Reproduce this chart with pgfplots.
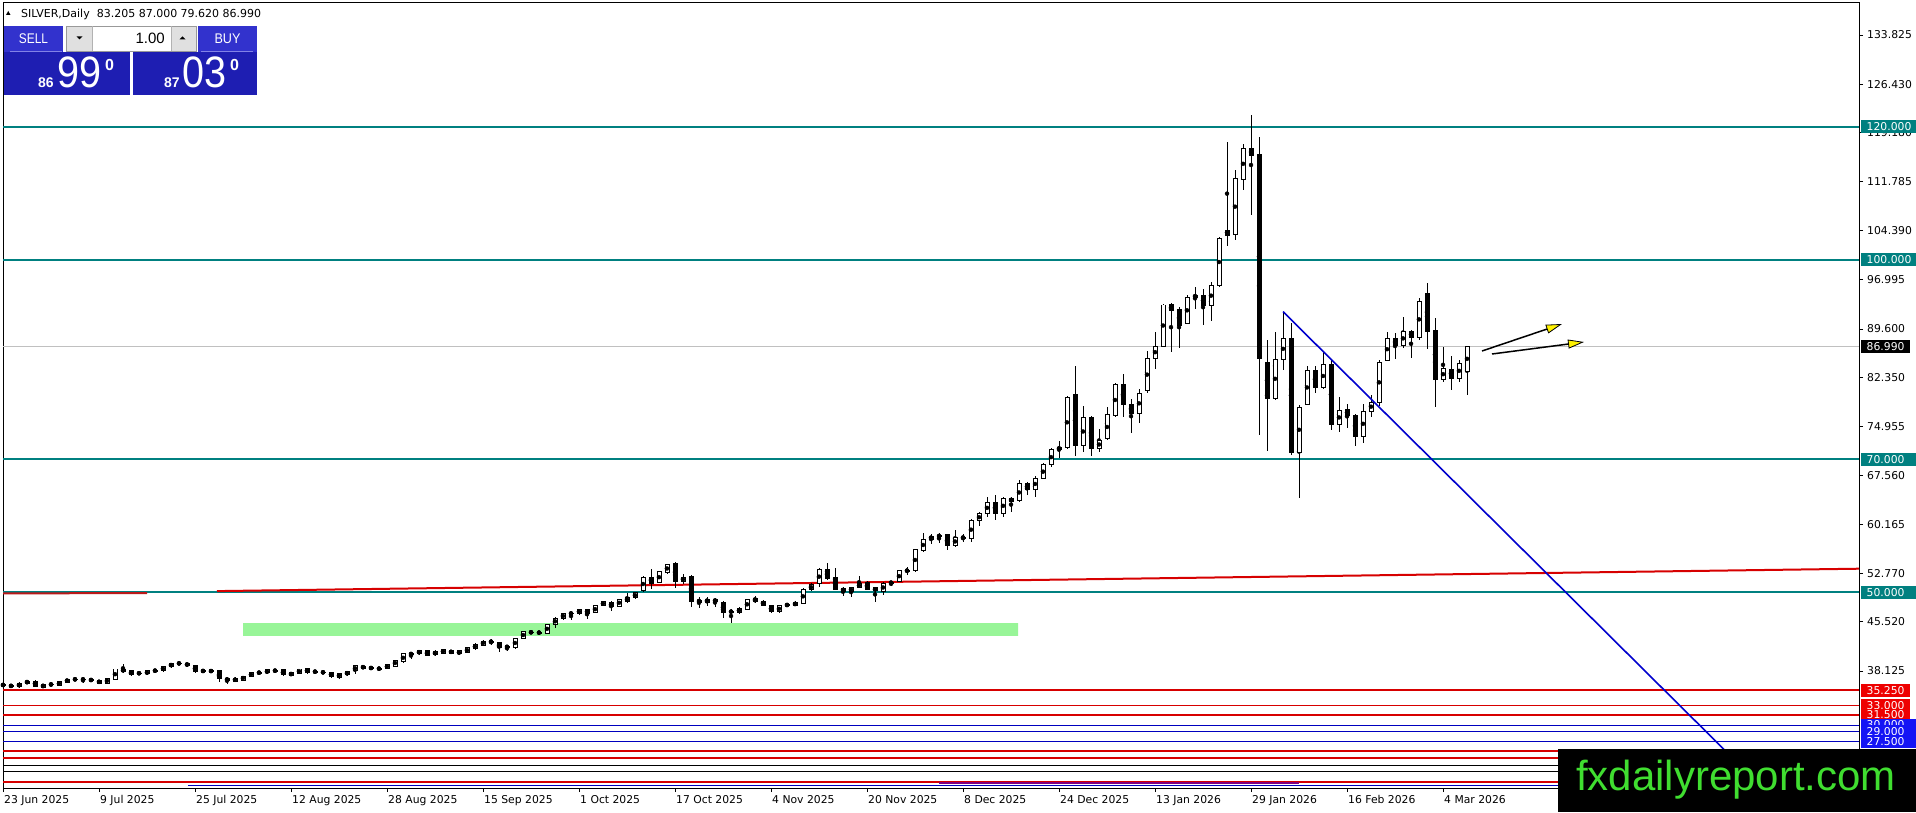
\documentclass[border=0pt]{standalone}
\usepackage{fontspec}
\setmainfont{DejaVu Sans}
\newfontfamily\lib{Liberation Sans}
\usepackage{pgfplots}
\pgfplotsset{compat=1.18}
\usepackage{pgfplotstable}
\usetikzlibrary{arrows.meta}
\definecolor{tealc}{RGB}{0,128,128}
\definecolor{redl}{RGB}{215,0,0}
\definecolor{redd}{RGB}{185,25,25}
\definecolor{redb}{RGB}{238,0,0}
\definecolor{bluel}{RGB}{0,0,190}
\definecolor{blueb}{RGB}{20,20,245}
\definecolor{trend}{RGB}{0,0,205}
\definecolor{purp}{RGB}{128,0,128}
\definecolor{btn}{RGB}{50,50,205}
\definecolor{btnline}{RGB}{130,130,230}
\definecolor{pbox}{RGB}{30,30,178}
\definecolor{wm}{RGB}{64,222,48}
\definecolor{band}{RGB}{152,245,152}
\definecolor{pline}{RGB}{192,192,192}
\newcommand\tf{\fontsize{10.8}{12}\selectfont}

\pgfplotstableread{
i o h l c
0 36.05 36.2 35.85 36.00
1 35.9 36.1 35.7 35.87
2 35.77 36.4 35.6 36.27
3 36.27 36.8 36.15 36.62
4 36.62 36.8 35.7 35.87
5 35.67 36.2 35.5 36.12
6 36.1 36.3 35.9 36.12
7 35.97 36.6 35.85 36.52
8 36.47 37.0 36.35 36.87
9 36.85 37.0 36.75 36.9
10 36.87 37.17 36.27 36.88
11 36.78 36.95 36.6 36.77
12 36.72 36.85 36.15 36.27
13 36.27 37.1 36.15 37.02
14 36.87 38.5 36.75 38.43
15 38.43 39.18 37.9 38.03
16 38.13 38.3 37.4 37.53
17 37.8 38.0 37.6 37.78
18 37.68 38.25 37.55 38.13
19 38.17 38.3 38.05 38.18
20 38.13 38.9 38.0 38.83
21 38.78 39.4 38.65 39.28
22 39.27 39.45 39.1 39.28
23 39.28 39.4 38.8 38.93
24 38.98 39.1 37.9 38.03
25 38.14 38.3 37.95 38.13
26 38.12 38.3 37.95 38.13
27 38.13 38.25 36.5 36.97
28 37.07 37.2 36.12 36.67
29 36.57 37.2 36.4 37.07
30 36.77 37.45 36.6 37.37
31 37.37 37.9 37.25 37.83
32 37.87 38.05 37.7 37.88
33 37.83 38.35 37.7 38.28
34 38.17 38.35 38.0 38.18
35 38.28 38.4 37.4 37.53
36 37.48 37.95 37.35 37.88
37 37.78 38.5 37.65 38.43
38 38.48 38.6 37.75 37.88
39 38.03 38.2 37.85 38.02
40 37.94 38.1 37.75 37.93
41 37.93 38.05 37.15 37.28
42 37.18 37.85 36.88 37.78
43 37.53 38.15 37.4 38.08
44 38.13 39.0 37.63 38.93
45 38.88 39.0 38.4 38.53
46 38.59 38.75 38.4 38.58
47 38.49 38.65 38.3 38.48
48 38.53 39.15 38.4 39.08
49 38.88 39.85 38.75 39.78
50 39.54 40.75 39.4 40.69
51 40.75 40.9 40.0 40.65
52 40.74 41.3 40.6 41.19
53 41.14 41.25 40.35 40.49
54 40.54 41.25 40.4 41.09
55 40.79 41.5 40.65 41.39
56 41.24 41.35 40.65 40.79
57 40.69 41.3 40.55 41.14
58 40.94 41.7 40.8 41.59
59 41.44 42.3 41.3 42.19
60 42.04 42.75 41.9 42.64
61 42.55 42.9 42.05 42.54
62 42.44 42.55 41.04 41.64
63 41.8 41.95 41.15 41.75
64 41.64 43.15 41.5 43.05
65 43.05 44.15 42.9 44.05
66 43.95 44.1 43.8 43.96
67 43.92 44.05 43.75 43.88
68 43.8 45.25 43.65 45.15
69 45.15 46.2 44.55 46.05
70 46.0 46.9 45.85 46.81
71 46.85 47.0 45.8 46.75
72 46.71 47.5 46.6 47.41
73 47.31 47.45 45.9 46.81
74 46.91 48.05 46.8 47.96
75 48.01 48.65 47.9 48.56
76 48.46 48.6 47.2 47.76
77 47.86 49.0 47.7 48.91
78 48.56 49.8 48.35 49.2
79 49.16 50.0 49.0 49.92
80 50.22 52.35 50.05 52.22
81 52.22 53.43 50.42 51.32
82 51.42 53.2 51.3 53.08
83 52.93 54.3 52.8 54.18
84 54.33 54.58 50.57 51.67
85 51.67 52.67 51.22 52.22
86 52.42 52.6 47.81 48.56
87 48.81 49.21 47.56 48.51
88 48.46 49.31 47.91 48.96
89 48.91 49.05 47.81 48.56
90 48.51 48.65 46.06 46.91
91 47.07 47.41 45.4 47.06
92 46.91 47.7 46.75 47.56
93 47.41 49.0 47.25 48.91
94 49.01 49.41 48.41 48.56
95 48.66 48.8 47.9 48.01
96 48.01 48.1 46.85 47.01
97 47.01 48.05 46.85 47.96
98 48.07 48.4 47.7 48.06
99 48.01 48.6 47.85 48.41
100 48.31 50.55 48.2 50.42
101 50.32 51.3 50.2 51.17
102 51.32 53.58 50.82 53.33
103 53.33 54.43 51.82 52.07
104 52.22 53.58 50.3 50.42
105 50.57 50.7 49.42 50.07
106 50.07 50.8 49.22 50.67
107 50.67 52.42 50.55 51.32
108 51.47 51.6 50.3 50.42
109 50.62 50.75 48.56 50.22
110 50.07 51.45 49.57 51.32
111 51.43 51.6 50.9 51.42
112 51.57 53.35 51.45 53.23
113 53.24 53.83 52.58 53.23
114 53.23 56.55 53.1 56.44
115 56.24 58.84 56.1 57.94
116 57.94 58.74 57.24 58.44
117 58.45 58.84 57.34 58.44
118 58.6 58.75 56.4 57.0
119 57.0 59.35 56.85 58.24
120 58.21 58.75 57.5 58.2
121 58.09 60.95 57.6 60.7
122 60.7 62.0 60.0 61.85
123 61.85 64.26 61.35 63.5
124 63.5 64.6 60.85 61.85
125 61.85 64.25 61.35 64.11
126 64.11 64.25 62.1 63.61
127 63.71 66.87 63.55 66.27
128 66.27 66.62 64.6 65.47
129 65.47 67.47 64.36 67.07
130 67.12 69.48 66.95 69.13
131 69.13 71.65 68.77 71.48
132 71.48 72.74 70.13 71.78
133 71.78 79.45 71.6 79.31
134 79.66 84.02 70.53 72.04
135 72.04 78.0 71.13 76.30
136 76.30 76.5 70.53 71.63
137 71.63 74.5 71.13 72.79
138 73.04 77.9 72.9 76.65
139 76.55 81.5 76.4 81.26
140 81.26 82.77 76.3 78.25
141 78.25 79.05 73.9 76.9
142 76.9 80.5 75.5 79.91
143 80.26 86.28 79.9 85.18
144 85.18 89.19 83.5 87.03
145 87.03 93.4 86.9 93.2
146 93.2 93.55 86.18 92.35
147 92.45 92.95 86.78 90.09
148 90.44 94.7 90.3 94.35
149 94.35 95.86 92.55 94.7
150 94.7 95.55 90.2 93.05
151 93.1 96.6 90.85 96.11
152 96.11 103.4 95.95 103.23
153 104.48 117.78 102.13 103.73
154 103.83 113.5 102.98 112.16
155 112.11 117.43 110.5 116.77
156 116.77 121.79 106.74 115.67
157 115.77 118.53 73.65 85.18
158 84.58 87.94 71.29 79.16
159 79.16 89.19 78.9 85.03
160 85.03 92.2 83.42 88.19
161 88.19 90.44 70.63 71.0
162 71.04 78.16 64.12 77.81
163 78.26 84.03 78.1 83.32
164 83.32 84.03 80.0 80.77
165 80.77 86.28 80.6 84.27
166 84.27 85.03 74.4 75.25
167 75.25 79.31 74.15 77.31
168 77.5 78.25 74.64 76.54
169 76.64 76.8 71.98 73.39
170 73.39 78.25 72.38 77.25
171 77.25 79.65 76.4 78.55
172 78.55 84.9 78.0 84.57
173 84.92 89.18 84.75 88.18
174 88.18 89.03 85.02 87.08
175 87.08 91.44 86.68 89.28
176 89.28 89.45 85.27 88.28
177 88.28 94.2 87.93 93.8
178 94.95 96.45 86.53 89.28
179 89.43 91.29 77.9 82.01
180 82.01 86.82 81.56 83.57
181 83.57 85.52 80.41 82.16
182 82.16 84.92 81.66 84.42
183 83.205 87.0 79.62 86.99
}\candles

\begin{document}
\begin{tikzpicture}[x=1pt,y=1pt]
\fill[white] (0,0) rectangle (1916,812);
\begin{axis}[
  at={(3pt,24pt)}, anchor=south west, scale only axis,
  width=1856pt, height=785pt,
  xmin=0, xmax=232, ymin=20.524, ymax=138.64,
  axis line style={black, line width=1pt},
  xtick pos=left, xticklabel pos=left,
  ytick pos=right, yticklabel pos=right,
  tick align=outside, major tick length=4pt,
  tick style={black, line width=0.8pt},
  ytick={133.825,126.43,119.18,111.785,104.39,96.995,89.6,82.35,74.955,67.56,60.165,52.77,45.52,38.125},
  yticklabels={133.825,126.430,119.180,111.785,104.390,96.995,89.600,82.350,74.955,67.560,60.165,52.770,45.520,38.125},
  xtick={0,12,24,36,48,60,72,84,96,108,120,132,144,156,168,180},
  xticklabels={23 Jun 2025,9 Jul 2025,25 Jul 2025,12 Aug 2025,28 Aug 2025,15 Sep 2025,1 Oct 2025,17 Oct 2025,4 Nov 2025,20 Nov 2025,8 Dec 2025,24 Dec 2025,13 Jan 2026,29 Jan 2026,16 Feb 2026,4 Mar 2026},
  yticklabel style={font=\tf, anchor=west, inner sep=0pt, xshift=4pt},
  xticklabel style={font=\tf, anchor=north west, inner sep=0pt, xshift=1pt, yshift=-3pt},
  /pgf/number format/assume math mode=true,
  clip mode=individual,
]
% support band
\addplot[draw=none, fill=band, forget plot] coordinates {(30,43.4) (126.9,43.4) (126.9,45.35) (30,45.35) (30,43.4)};
% horizontal levels
\addplot[tealc, line width=2pt, forget plot] coordinates {(0,120) (232,120)};
\addplot[tealc, line width=2pt, forget plot] coordinates {(0,100) (232,100)};
\addplot[tealc, line width=2pt, forget plot] coordinates {(0,70) (232,70)};
\addplot[tealc, line width=2pt, forget plot] coordinates {(0,50) (232,50)};
\addplot[pline, line width=0.8pt, forget plot] coordinates {(0,86.99) (232,86.99)};
\addplot[redl, line width=2pt, forget plot] coordinates {(0,35.25) (232,35.25)};
\addplot[redl, line width=0.9pt, forget plot] coordinates {(0,33) (232,33)};
\addplot[redl, line width=2pt, forget plot] coordinates {(0,31.5) (232,31.5)};
\addplot[bluel, line width=0.9pt, forget plot] coordinates {(0,30) (232,30)};
\addplot[bluel, line width=0.9pt, forget plot] coordinates {(0,29) (232,29)};
\addplot[bluel, line width=0.9pt, forget plot] coordinates {(0,27.5) (232,27.5)};
\addplot[redl, line width=2pt, forget plot] coordinates {(0,26.05) (232,26.05)};
\addplot[redl, line width=2pt, forget plot] coordinates {(0,25.0) (232,25.0)};
\addplot[black, line width=0.9pt, forget plot] coordinates {(0,23.98) (232,23.98)};
\addplot[black, line width=0.9pt, forget plot] coordinates {(0,23.08) (232,23.08)};
\addplot[redl, line width=2pt, forget plot] coordinates {(0,21.48) (232,21.48)};
\addplot[purp, line width=2pt, forget plot] coordinates {(117,21.3) (162,21.3)};
\addplot[bluel, line width=0.9pt, forget plot] coordinates {(23.1,20.85) (232,20.85)};
% sloping red line
\addplot[redd, line width=2pt, forget plot] coordinates {(0,49.8) (18,49.86)};
\addplot[redl, line width=2pt, forget plot] coordinates {(26.75,50.15) (232,53.52)};
% candles: wicks
\addplot[only marks, mark=none, forget plot,
  error bars/.cd, y dir=both, y explicit, error mark=none,
  error bar style={draw=black, line width=1pt}]
  table[x=i, y expr={(\thisrow{h}+\thisrow{l})/2}, y error expr={(\thisrow{h}-\thisrow{l})/2}] {\candles};
% candle bodies (outline / black)
\addplot[only marks, mark=none, forget plot,
  error bars/.cd, y dir=both, y explicit, error mark=none,
  error bar style={draw=black, line width=5pt}]
  table[x=i, y expr={(\thisrow{o}+\thisrow{c})/2}, y error expr={abs(\thisrow{c}-\thisrow{o})/2+0.075}] {\candles};
% bullish bodies (white inside)
\addplot[only marks, mark=none, forget plot,
  error bars/.cd, y dir=both, y explicit, error mark=none,
  error bar style={draw=white, line width=3pt}]
  table[x=i, y expr={(\thisrow{o}+\thisrow{c})/2}, y error expr={max((\thisrow{c}-\thisrow{o})/2-0.075,0.0001)}] {\candles};
% descending trend line
\addplot[trend, line width=1.6pt, forget plot] coordinates {(160,92.2) (220,20.5)};
\end{axis}

% right-side price labels
\tikzset{lab/.style={anchor=west, inner ysep=0pt, minimum height=13pt, font=\tf, text=white, align=left, inner xsep=5.5pt}}
\node[lab, fill=tealc, text width=44pt] at (1861,685.12) {120.000};
\node[lab, fill=tealc, text width=44pt] at (1861,552.2) {100.000};
\node[lab, fill=black, text width=38pt] at (1861,465.73) {86.990};
\node[lab, fill=tealc, text width=44pt] at (1861,352.82) {70.000};
\node[lab, fill=tealc, text width=44pt] at (1861,219.9) {50.000};
\node[lab, fill=redb, text width=38pt] at (1861,121.87) {35.250};
\node[lab, fill=redb, text width=38pt] at (1861,106.92) {33.000};
\node[lab, fill=redb, text width=38pt] at (1861,96.95) {31.500};
\node[lab, fill=blueb, text width=44pt] at (1861,86.98) {30.000};
\node[lab, fill=blueb, text width=44pt] at (1861,80.33) {29.000};
\node[lab, fill=blueb, text width=44pt] at (1861,70.36) {27.500};

% arrows
\draw[black, line width=1.5pt, -{Triangle[length=16pt, width=9pt, fill=yellow, line width=0.8pt]}] (1482,461) -- (1562,488);
\draw[black, line width=1.5pt, -{Triangle[length=16pt, width=9pt, fill=yellow, line width=0.8pt]}] (1492,458) -- (1584,470);

% watermark
\fill[black] (1558,0) rectangle (1916,63);
\node[anchor=base west, inner sep=0pt, text=wm, font=\lib\fontsize{42}{42}\selectfont] at (1576,22) {fxdailyreport.com};

% header
\fill[black] (6,797) -- (10.5,797) -- (8.25,801) -- cycle;
\node[anchor=base west, inner sep=0pt, font=\fontsize{11}{12}\selectfont] at (21,794.5) {SILVER,Daily\ \ 83.205 87.000 79.620 86.990};

% trade panel
\fill[btn] (4,760) rectangle (63,786);
\fill[btn] (198,760) rectangle (257,786);
\draw[btnline, line width=0.8pt] (10,760.5) -- (62,760.5) (201,760.5) -- (253,760.5);
\fill[white] (66,760) rectangle (197,786);
\fill[black!12] (66.5,760.5) rectangle (92,785.5);
\fill[black!12] (171,760.5) rectangle (196.5,785.5);
\draw[black!40, line width=0.8pt] (66.5,760.5) rectangle (196.5,785.5);
\draw[black!30, line width=0.6pt] (92,760.5) -- (92,785.5) (171,760.5) -- (171,785.5);
\fill[black] (76.5,775.5) -- (82.5,775.5) -- (79.5,772.5) -- cycle;
\fill[black] (179.5,772.5) -- (185.5,772.5) -- (182.5,775.5) -- cycle;
\node[anchor=base east, inner sep=0pt, font=\lib\fontsize{15}{15}\selectfont] at (165,768.5) {1.00};
\node[inner sep=0pt, text=white, font=\lib\fontsize{14}{14}\selectfont, xscale=0.85] at (33.5,773) {SELL};
\node[inner sep=0pt, text=white, font=\lib\fontsize{14}{14}\selectfont, xscale=0.9] at (227.5,773) {BUY};
\fill[pbox] (4,717) rectangle (130,759.5);
\fill[pbox] (133,717) rectangle (257,759.5);
\node[anchor=base west, inner sep=0pt, text=white, font=\lib\bfseries\fontsize{14}{14}\selectfont] at (38,724) {86};
\node[anchor=base west, inner sep=0pt, text=white, font=\lib\fontsize{44}{44}\selectfont, xscale=0.9] at (57,724) {99};
\node[anchor=base west, inner sep=0pt, text=white, font=\lib\bfseries\fontsize{16}{16}\selectfont] at (105,741) {0};
\node[anchor=base west, inner sep=0pt, text=white, font=\lib\bfseries\fontsize{14}{14}\selectfont] at (164,724) {87};
\node[anchor=base west, inner sep=0pt, text=white, font=\lib\fontsize{44}{44}\selectfont, xscale=0.9] at (182,724) {03};
\node[anchor=base west, inner sep=0pt, text=white, font=\lib\bfseries\fontsize{16}{16}\selectfont] at (230,741) {0};
\pgfresetboundingbox
\useasboundingbox (0,0) rectangle (1916,812);
\end{tikzpicture}
\end{document}
